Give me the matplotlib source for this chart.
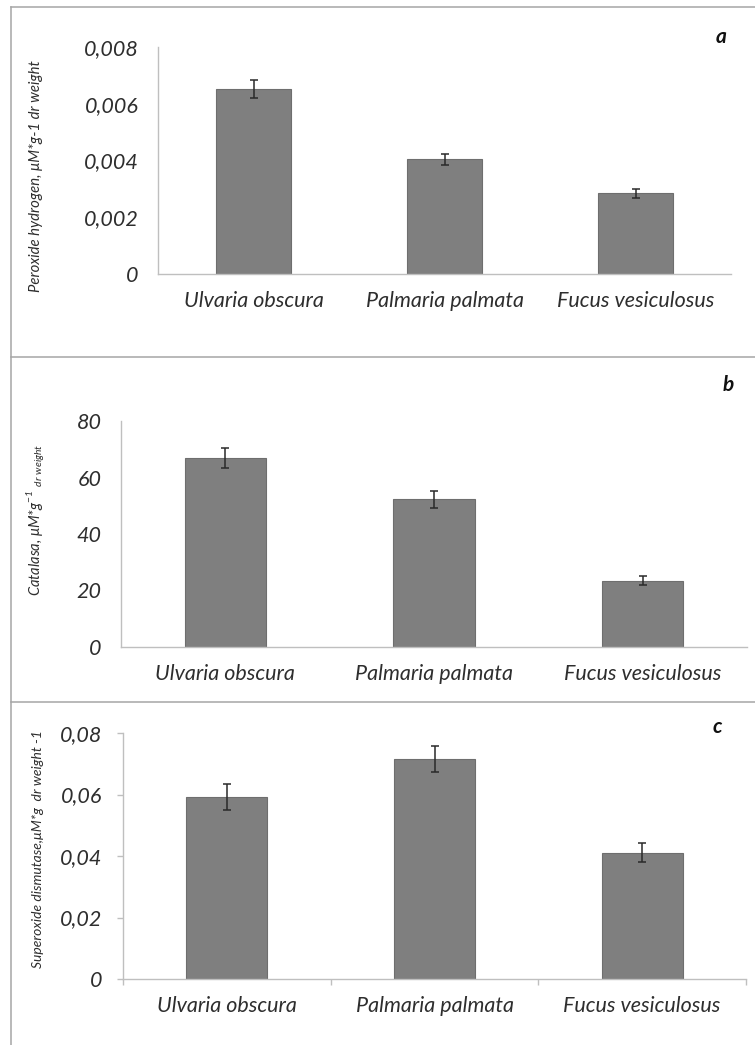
import numpy as np
import matplotlib.pyplot as plt
from matplotlib.lines import Line2D

# species on the x axis
species = ['Ulvaria obscura', 'Palmaria palmata', 'Fucus vesiculosus']

# panel a: peroxide hydrogen
h2o2 = [0.00652, 0.00404, 0.00284]
h2o2_err = [0.00030, 0.00020, 0.00016]

# panel b: catalase
catalase = [67.0, 52.3, 23.5]
catalase_err = [3.5, 3.0, 1.5]

# panel c: superoxide dismutase
sod = [0.0592, 0.0715, 0.0410]
sod_err = [0.0041, 0.0043, 0.0031]

W, H = 755, 1045
FONT = 'Lato'
TXT = '#2e2e2e'
SPINE = '#bfbfbf'

fig = plt.figure(figsize=(W / 100, H / 100), dpi=100)


def px_axes(x0, x1, y_top, y_bot):
    """axes rect from pixel coordinates"""
    return fig.add_axes([x0 / W, 1 - y_bot / H, (x1 - x0) / W, (y_bot - y_top) / H])


def bar_panel(ax, values, errors, ymax, yticks, ylabels, ticks=False):
    x = np.arange(len(species))
    ax.bar(x, values, width=0.39, color='#7f7f7f', edgecolor='#6e6e6e', linewidth=0.8,
           yerr=errors, error_kw=dict(ecolor='#2a2a2a', elinewidth=1.1, capsize=3, capthick=1.1))
    ax.set_xlim(-0.5, 2.5)
    ax.set_ylim(0, ymax)
    ax.set_yticks(yticks)
    ax.set_yticklabels(ylabels, fontsize=15.5, style='italic', family=FONT, color=TXT)
    ax.set_xticks(x)
    ax.set_xticklabels(species, fontsize=15.5, style='italic', family=FONT, color=TXT)
    for s in ['top', 'right']:
        ax.spines[s].set_visible(False)
    for s in ['left', 'bottom']:
        ax.spines[s].set_color(SPINE)
        ax.spines[s].set_linewidth(1.0)
    ax.tick_params(axis='x', length=0, pad=12)
    if ticks:
        ax.tick_params(axis='y', length=4, color=SPINE, width=1.0, pad=11)
        ax.set_xticks([-0.5, 0.5, 1.5, 2.5], minor=True)
        ax.tick_params(axis='x', which='minor', length=4, color=SPINE, width=1.0)
    else:
        ax.tick_params(axis='y', length=0, pad=14)


ax_a = px_axes(158, 731, 47, 274)
bar_panel(ax_a, h2o2, h2o2_err, 0.008,
          [0, 0.002, 0.004, 0.006, 0.008], ['0', '0,002', '0,004', '0,006', '0,008'])

ax_b = px_axes(121, 747, 421, 647)
bar_panel(ax_b, catalase, catalase_err, 80,
          [0, 20, 40, 60, 80], ['0', '20', '40', '60', '80'])

ax_c = px_axes(123, 746, 733, 979)
bar_panel(ax_c, sod, sod_err, 0.08,
          [0, 0.02, 0.04, 0.06, 0.08], ['0', '0,02', '0,04', '0,06', '0,08'], ticks=True)

# y labels
fig.text(36 / W, 1 - 176 / H, 'Peroxide hydrogen, μM*g-1 dr weight', rotation=90,
         ha='center', va='center', fontsize=10.7, style='italic', family=FONT, color=TXT)
fig.text(36 / W, 1 - 520 / H, r'Catalasa, μM*g$^{\mathregular{-1}}$ $_{\mathregular{dr\ weight}}$',
         rotation=90, ha='center', va='center', fontsize=10.5, style='italic', family=FONT, color=TXT)
fig.text(38 / W, 1 - 849 / H, 'Superoxide dismutase,μM*g  dr weight -1', rotation=90,
         ha='center', va='center', fontsize=10, style='italic', family=FONT, color=TXT)

# panel letters
for lab, xp, yp in [('a', 721, 37), ('b', 728, 385), ('c', 717, 727)]:
    fig.text(xp / W, 1 - yp / H, lab, ha='center', va='center', fontsize=15,
             style='italic', weight='bold', family=FONT, color='#111111')

# panel frames
BORDER = '#a6a6a6'
for yp in [7, 357, 702]:
    fig.add_artist(Line2D([11 / W, 1], [1 - yp / H, 1 - yp / H], color=BORDER, lw=1.1))
fig.add_artist(Line2D([11 / W, 11 / W], [1 - 7 / H, 0], color=BORDER, lw=1.1))

plt.savefig('out.png', dpi=100)
